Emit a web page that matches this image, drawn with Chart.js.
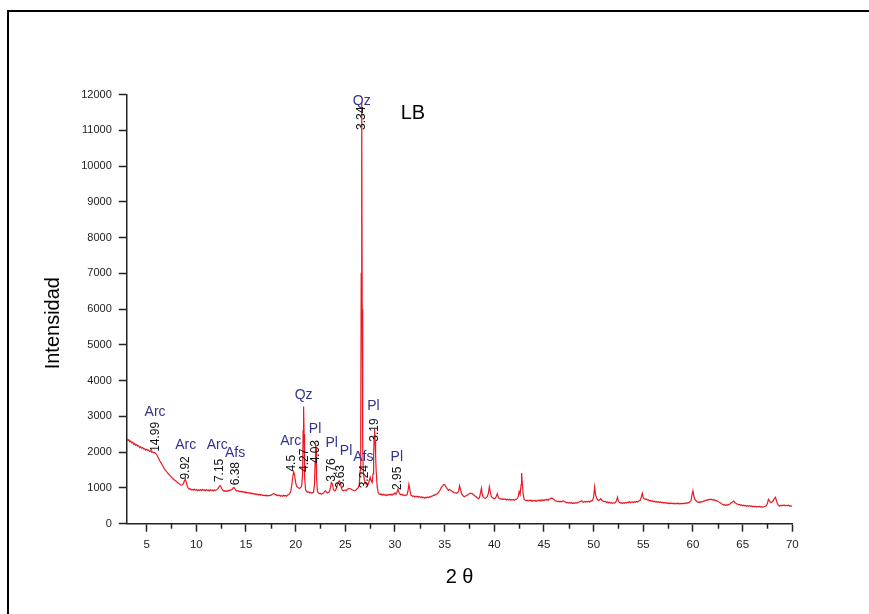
<!DOCTYPE html>
<html>
<head>
<meta charset="utf-8">
<script src="https://cdn.jsdelivr.net/npm/chart.js@4/dist/chart.umd.min.js"></script>
<style>
  html, body { margin: 0; padding: 0; background: #fff; }
  #wrap { position: relative; width: 869px; height: 614px; overflow: hidden; }
  #frame { position: absolute; left: 7px; top: 10px; width: 862px; height: 604px;
           border-top: 2px solid #000; border-left: 2px solid #000; box-sizing: border-box; pointer-events: none; }
  canvas { position: absolute; left: 0; top: 0; }
</style>
</head>
<body>
<div id="wrap">
  <canvas id="c" width="869" height="614"></canvas>
  <div id="frame"></div>
</div>
<script>
// ---- data (2θ, intensity) ----
const scan = [
 [3.0,2380],[3.1,2330],[3.2,2350],[3.3,2290],[3.4,2310],[3.5,2260],[3.6,2280],[3.7,2220],[3.8,2240],[3.9,2190],
 [4.0,2210],[4.1,2170],[4.2,2180],[4.3,2130],[4.4,2150],[4.5,2110],[4.6,2130],[4.7,2090],[4.8,2100],[4.9,2060],
 [5.0,2080],[5.1,2050],[5.2,2060],[5.3,2020],[5.4,2040],[5.5,2000],[5.6,2010],[5.7,1980],[5.8,1990],[5.9,1960],
 [6.0,1940],[6.1,1880],[6.2,1830],[6.3,1770],[6.4,1720],[6.5,1680],[6.6,1620],[6.7,1580],[6.8,1530],[6.9,1490],
 [7.0,1460],[7.1,1420],[7.2,1390],[7.3,1360],[7.4,1330],[7.5,1300],[7.6,1270],[7.7,1250],[7.8,1220],[7.9,1200],
 [8.0,1180],[8.1,1150],[8.2,1130],[8.3,1110],[8.4,1090],[8.5,1080],[8.6,1090],[8.7,1120],[8.8,1200],[8.9,1250],
 [9.0,1150],[9.1,1040],[9.2,990],[9.3,970],[9.4,975],[9.5,945],[9.6,960],[9.7,935],[9.8,965],[9.9,940],
 [10.0,955],[10.1,925],[10.2,950],[10.3,930],[10.4,955],[10.5,925],[10.6,960],[10.7,935],[10.8,950],[10.9,920],
 [11.0,955],[11.1,930],[11.2,945],[11.3,915],[11.4,950],[11.5,925],[11.6,940],[11.7,915],[11.8,945],[11.9,925],
 [12.0,940],[12.1,960],[12.2,990],[12.3,1040],[12.4,1070],[12.5,1020],[12.6,960],[12.7,930],[12.8,905],[12.9,925],
 [13.0,900],[13.1,925],[13.2,910],[13.3,935],[13.4,925],[13.5,950],[13.6,960],[13.7,1000],[13.8,1010],[13.9,970],
 [14.0,930],[14.1,915],[14.2,925],[14.3,895],[14.4,910],[14.5,885],[14.6,905],[14.7,880],[14.8,895],[14.9,870],
 [15.0,885],[15.1,860],[15.2,875],[15.3,850],[15.4,865],[15.5,840],[15.6,860],[15.7,835],[15.8,845],[15.9,820],
 [16.0,840],[16.1,815],[16.2,825],[16.3,800],[16.4,820],[16.5,795],[16.6,810],[16.7,785],[16.8,800],[16.9,780],
 [17.0,800],[17.1,775],[17.2,790],[17.3,780],[17.4,795],[17.5,790],[17.6,815],[17.7,830],[17.8,845],[17.9,825],
 [18.0,815],[18.1,790],[18.2,805],[18.3,780],[18.4,795],[18.5,770],[18.6,790],[18.7,770],[18.8,795],[18.9,775],
 [19.0,790],[19.1,770],[19.2,805],[19.3,815],[19.4,850],[19.5,900],[19.6,1050],[19.7,1300],[19.8,1450],[19.9,1350],
 [20.0,1150],[20.1,1050],[20.2,1020],[20.3,1000],[20.4,990],[20.5,1010],[20.6,1050],[20.7,1400],[20.75,2600],[20.8,3280],
 [20.85,2500],[20.9,1300],[21.0,950],[21.1,900],[21.2,880],[21.3,895],[21.4,865],[21.5,875],[21.6,855],[21.7,870],
 [21.8,880],[21.9,1100],[21.95,1700],[22.0,2250],[22.05,2100],[22.1,1300],[22.2,900],[22.3,860],[22.4,840],[22.5,850],
 [22.6,825],[22.7,845],[22.8,860],[22.9,890],[23.0,920],[23.1,890],[23.2,860],[23.3,875],[23.4,900],[23.5,1000],
 [23.6,1150],[23.7,1120],[23.8,960],[23.9,920],[24.0,930],[24.1,990],[24.2,1100],[24.3,1170],[24.4,1200],[24.5,1150],
 [24.6,1000],[24.7,940],[24.8,920],[24.9,935],[25.0,940],[25.1,925],[25.2,960],[25.3,975],[25.4,990],[25.5,980],
 [25.6,960],[25.7,950],[25.8,935],[25.9,920],[26.0,930],[26.1,950],[26.2,980],[26.3,1010],[26.4,1100],[26.5,1500],
 [26.55,2500],[26.6,7000],[26.65,11800],[26.7,6000],[26.75,2200],[26.8,1500],[26.9,1250],[27.0,1150],[27.1,1120],[27.2,1080],
 [27.3,1100],[27.4,1200],[27.5,1300],[27.6,1200],[27.7,1150],[27.8,1400],[27.85,1900],[27.9,2450],[27.95,2650],[28.0,2300],
 [28.05,1900],[28.1,1500],[28.2,1050],[28.3,880],[28.4,830],[28.5,815],[28.6,835],[28.7,800],[28.8,820],[28.9,795],
 [29.0,815],[29.1,785],[29.2,810],[29.3,795],[29.4,820],[29.5,805],[29.6,830],[29.7,800],[29.8,825],[29.9,835],
 [30.0,860],[30.1,820],[30.2,880],[30.3,960],[30.4,880],[30.5,830],[30.6,810],[30.7,825],[30.8,795],[30.9,805],
 [31.0,780],[31.1,800],[31.2,805],[31.3,900],[31.4,1100],[31.5,950],[31.6,800],[31.7,785],[31.8,760],[31.9,775],
 [32.0,750],[32.1,770],[32.2,745],[32.3,765],[32.4,740],[32.5,755],[32.6,730],[32.7,750],[32.8,725],[32.9,740],
 [33.0,715],[33.1,740],[33.2,725],[33.3,745],[33.4,730],[33.5,755],[33.6,745],[33.7,770],[33.8,775],[33.9,800],
 [34.0,795],[34.1,820],[34.2,825],[34.3,850],[34.4,880],[34.5,920],[34.6,980],[34.7,1030],[34.8,1060],[34.9,1100],
 [35.0,1090],[35.1,1040],[35.2,1000],[35.3,960],[35.4,930],[35.5,960],[35.6,940],[35.7,915],[35.8,900],[35.9,875],
 [36.0,860],[36.1,865],[36.2,850],[36.3,870],[36.4,900],[36.5,1060],[36.6,950],[36.7,840],[36.8,800],[36.9,770],
 [37.0,755],[37.1,775],[37.2,785],[37.3,800],[37.4,825],[37.5,840],[37.6,855],[37.7,845],[37.8,840],[37.9,810],
 [38.0,790],[38.1,765],[38.2,745],[38.3,715],[38.4,700],[38.5,730],[38.6,850],[38.7,990],[38.8,800],[38.9,735],
 [39.0,720],[39.1,710],[39.2,735],[39.3,760],[39.4,850],[39.5,1030],[39.6,880],[39.7,760],[39.8,730],[39.9,715],
 [40.0,700],[40.1,720],[40.2,760],[40.3,840],[40.4,740],[40.5,705],[40.6,690],[40.7,700],[40.8,675],[40.9,695],
 [41.0,680],[41.1,690],[41.2,665],[41.3,685],[41.4,670],[41.5,680],[41.6,660],[41.7,675],[41.8,665],[41.9,680],
 [42.0,655],[42.1,675],[42.2,680],[42.3,700],[42.4,750],[42.5,900],[42.6,820],[42.7,1100],[42.75,1420],[42.8,1200],
 [42.9,850],[43.0,680],[43.1,655],[43.2,645],[43.3,660],[43.4,635],[43.5,655],[43.6,640],[43.7,660],[43.8,625],
 [43.9,650],[44.0,635],[44.1,655],[44.2,625],[44.3,650],[44.4,640],[44.5,660],[44.6,635],[44.7,665],[44.8,650],
 [44.9,670],[45.0,645],[45.1,670],[45.2,660],[45.3,680],[45.4,655],[45.5,690],[45.6,685],[45.7,710],[45.8,720],
 [45.9,700],[46.0,675],[46.1,650],[46.2,640],[46.3,625],[46.4,615],[46.5,630],[46.6,605],[46.7,625],[46.8,615],
 [46.9,640],[47.0,635],[47.1,610],[47.2,600],[47.3,585],[47.4,595],[47.5,575],[47.6,590],[47.7,570],[47.8,590],
 [47.9,565],[48.0,580],[48.1,570],[48.2,590],[48.3,575],[48.4,595],[48.5,600],[48.6,615],[48.7,630],[48.8,645],
 [48.9,615],[49.0,600],[49.1,620],[49.2,605],[49.3,625],[49.4,610],[49.5,630],[49.6,605],[49.7,635],[49.8,630],
 [49.9,660],[50.0,750],[50.1,1030],[50.2,800],[50.3,720],[50.4,670],[50.5,650],[50.6,670],[50.7,700],[50.8,660],
 [50.9,640],[51.0,625],[51.1,615],[51.2,625],[51.3,595],[51.4,610],[51.5,585],[51.6,600],[51.7,575],[51.8,590],
 [51.9,570],[52.0,585],[52.1,575],[52.2,600],[52.3,640],[52.4,740],[52.5,620],[52.6,590],[52.7,575],[52.8,590],
 [52.9,565],[53.0,585],[53.1,570],[53.2,595],[53.3,580],[53.4,600],[53.5,590],[53.6,610],[53.7,585],[53.8,605],
 [53.9,610],[54.0,595],[54.1,615],[54.2,600],[54.3,620],[54.4,605],[54.5,625],[54.6,640],[54.7,660],[54.8,750],
 [54.9,850],[55.0,720],[55.1,700],[55.2,680],[55.3,690],[55.4,660],[55.5,670],[55.6,640],[55.7,650],[55.8,625],
 [55.9,640],[56.0,615],[56.1,630],[56.2,605],[56.3,620],[56.4,600],[56.5,615],[56.6,595],[56.7,610],[56.8,590],
 [56.9,600],[57.0,580],[57.1,595],[57.2,575],[57.3,590],[57.4,565],[57.5,580],[57.6,560],[57.7,580],[57.8,565],
 [57.9,575],[58.0,555],[58.1,570],[58.2,550],[58.3,570],[58.4,555],[58.5,575],[58.6,550],[58.7,565],[58.8,555],
 [58.9,570],[59.0,560],[59.1,575],[59.2,565],[59.3,580],[59.4,570],[59.5,590],[59.6,595],[59.7,610],[59.8,640],
 [59.9,800],[60.0,920],[60.1,760],[60.2,680],[60.3,640],[60.4,615],[60.5,600],[60.6,610],[60.7,595],[60.8,615],
 [60.9,605],[61.0,625],[61.1,630],[61.2,645],[61.3,650],[61.4,665],[61.5,660],[61.6,680],[61.7,675],[61.8,685],
 [61.9,670],[62.0,675],[62.1,660],[62.2,665],[62.3,645],[62.4,645],[62.5,620],[62.6,615],[62.7,590],[62.8,575],
 [62.9,550],[63.0,535],[63.1,520],[63.2,530],[63.3,515],[63.4,525],[63.5,520],[63.6,540],[63.7,545],[63.8,570],
 [63.9,590],[64.0,615],[64.1,635],[64.2,600],[64.3,575],[64.4,555],[64.5,550],[64.6,530],[64.7,540],[64.8,515],
 [64.9,525],[65.0,500],[65.1,515],[65.2,500],[65.3,510],[65.4,490],[65.5,505],[65.6,495],[65.7,505],[65.8,485],
 [65.9,495],[66.0,475],[66.1,490],[66.2,480],[66.3,485],[66.4,465],[66.5,480],[66.6,470],[66.7,485],[66.8,465],
 [66.9,475],[67.0,460],[67.1,475],[67.2,480],[67.3,490],[67.4,505],[67.5,580],[67.6,680],[67.7,640],[67.8,600],
 [67.9,595],[68.0,610],[68.1,660],[68.2,700],[68.3,740],[68.4,660],[68.5,560],[68.6,520],[68.7,495],[68.8,510],
 [68.9,500],[69.0,520],[69.1,510],[69.2,525],[69.3,500],[69.4,515],[69.5,505],[69.6,515],[69.7,495],[69.8,505],
 [69.9,490],[70.0,500]
];
const twoTheta = scan.map(p => p[0]);
const intensity = scan.map(p => p[1]);

// tick values
const xMajorTicks = [5,10,15,20,25,30,35,40,45,50,55,60,65,70];
const xMinorTicks = [7.5,12.5,17.5,22.5,27.5,32.5,37.5,42.5,47.5,52.5,57.5,62.5,67.5];
const yTicks = [0,1000,2000,3000,4000,5000,6000,7000,8000,9000,10000,11000,12000];

// phase labels (mineral) anchored at peak 2θ / intensity
const phaseText = ['Arc','Arc','Arc','Afs','Arc','Qz','Pl','Pl','Pl','Afs','Pl','Pl','Qz'];
const phaseX    = [5.85, 8.93, 12.1, 13.9, 19.5, 20.8, 21.95, 23.63, 25.07, 26.82, 27.83, 30.18, 26.65];
const phaseY    = [3130, 2200, 2190, 1970, 2300, 3600, 2640, 2250, 2040, 1860, 3290, 1860, 11830];

// d-spacing labels (Å), rotated
const dText = ['14.99','9.92','7.15','6.38','4.5','4.27','4.03','3.76','3.63','3.24','3.19','2.95','3.34'];
const dX    = [5.95, 8.93, 12.4, 13.95, 19.62, 20.95, 22.05, 23.63, 24.54, 26.99, 28.0, 30.24, 26.65];
const dY    = [2430, 1560, 1490, 1400, 1690, 1775, 2015, 1500, 1315, 1315, 2620, 1270, 11340];

const sampleName = 'LB';
const sampleX = 31.8, sampleY = 11480;
const xTitle = '2 θ';
const yTitle = 'Intensidad';

const FONT = '"Liberation Sans", Arial, sans-serif';

const annotate = {
  id: 'annotate',
  afterDraw(chart) {
    const {ctx, scales: {x, y}, chartArea} = chart;
    ctx.save();
    // minor x ticks
    ctx.strokeStyle = '#222';
    ctx.lineWidth = 1.5;
    xMinorTicks.forEach(v => {
      const px = Math.round(x.getPixelForValue(v)) + 0.5;
      ctx.beginPath();
      ctx.moveTo(px, chartArea.bottom);
      ctx.lineTo(px, chartArea.bottom + 5);
      ctx.stroke();
    });
    // phase labels
    ctx.fillStyle = '#33338f';
    ctx.font = '14px ' + FONT;
    ctx.textAlign = 'center';
    ctx.textBaseline = 'middle';
    phaseText.forEach((t, i) => ctx.fillText(t, x.getPixelForValue(phaseX[i]), y.getPixelForValue(phaseY[i])));
    // d-spacings rotated
    ctx.fillStyle = '#111';
    ctx.font = '12px ' + FONT;
    dText.forEach((t, i) => {
      ctx.save();
      ctx.translate(x.getPixelForValue(dX[i]), y.getPixelForValue(dY[i]));
      ctx.rotate(-Math.PI / 2);
      ctx.fillText(t, 0, 0);
      ctx.restore();
    });
    // sample name
    ctx.fillStyle = '#000';
    ctx.font = '20px ' + FONT;
    ctx.fillText(sampleName, x.getPixelForValue(sampleX), y.getPixelForValue(sampleY));
    // axis titles
    ctx.font = '20px ' + FONT;
    ctx.fillText(xTitle, (chartArea.left + chartArea.right) / 2, chartArea.bottom + 54);
    ctx.save();
    ctx.translate(chartArea.left - 73, (chartArea.top + chartArea.bottom) / 2 + 14);
    ctx.rotate(-Math.PI / 2);
    ctx.fillText(yTitle, 0, 0);
    ctx.restore();
    ctx.restore();
  }
};

new Chart(document.getElementById('c'), {
  type: 'line',
  data: {
    datasets: [{
      data: twoTheta.map((t, i) => ({x: t, y: intensity[i]})),
      borderColor: 'rgb(235,25,35)',
      borderWidth: 1.2,
      pointRadius: 0,
      tension: 0,
      fill: false
    }]
  },
  options: {
    responsive: false,
    animation: false,
    devicePixelRatio: 1,
    layout: { padding: { left: 0, right: 76.7, top: 94.7, bottom: 0 } },
    plugins: { legend: { display: false }, tooltip: { enabled: false } },
    scales: {
      x: {
        type: 'linear', min: 3, max: 70,
        afterBuildTicks: s => { s.ticks = xMajorTicks.map(v => ({value: v})); },
        afterFit: s => { s.height = 90.3; },
        ticks: { color: '#222', font: { family: FONT, size: 11.5 }, padding: 6, maxRotation: 0, autoSkip: false,
                 callback: v => String(v) },
        grid: { drawOnChartArea: false, drawTicks: true, tickLength: 8, tickColor: '#222', tickWidth: 1.5 },
        border: { display: true, color: '#222', width: 1.5 }
      },
      y: {
        type: 'linear', min: 0, max: 12000,
        afterBuildTicks: s => { s.ticks = yTicks.map(v => ({value: v})); },
        afterFit: s => { s.width = 126.8; },
        ticks: { color: '#222', font: { family: FONT, size: 11 }, padding: 7, autoSkip: false,
                 callback: v => String(v) },
        grid: { drawOnChartArea: false, drawTicks: true, tickLength: 8, tickColor: '#222', tickWidth: 1.5 },
        border: { display: true, color: '#222', width: 1.5 }
      }
    }
  },
  plugins: [annotate]
});
</script>
</body>
</html>
